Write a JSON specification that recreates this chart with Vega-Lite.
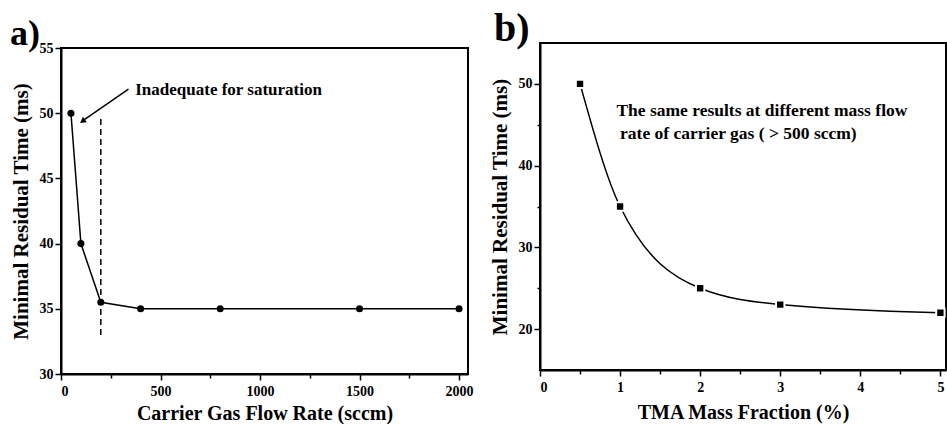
{
  "$schema": "https://vega.github.io/schema/vega-lite/v6.json",
  "background": "white",
  "padding": {"left": 9, "top": 8, "right": 0, "bottom": 0},
  "spacing": 13,
  "center": true,
  "datasets": {
    "flow": [
      {"rate": 50, "time": 50},
      {"rate": 100, "time": 40},
      {"rate": 200, "time": 35.5},
      {"rate": 400, "time": 35},
      {"rate": 800, "time": 35},
      {"rate": 1500, "time": 35},
      {"rate": 2000, "time": 35}
    ],
    "tma": [
      {"frac": 0.5, "time": 50},
      {"frac": 1, "time": 35},
      {"frac": 2, "time": 25},
      {"frac": 3, "time": 23},
      {"frac": 5, "time": 22}
    ]
  },
  "config": {
    "font": "Liberation Serif",
    "view": {"stroke": "black", "strokeWidth": 2},
    "axis": {
      "grid": false,
      "domainColor": "black",
      "domainWidth": 2,
      "tickColor": "black",
      "tickWidth": 1.5,
      "labelFont": "Liberation Serif",
      "labelFontWeight": "bold",
      "labelFontSize": 14,
      "labelColor": "black",
      "titleFont": "Liberation Serif",
      "titleFontWeight": "bold",
      "titleFontSize": 20,
      "titleColor": "black",
      "labelOverlap": false
    },
    "title": {
      "font": "Liberation Serif",
      "fontWeight": "bold",
      "color": "black",
      "anchor": "start",
      "frame": "group",
      "baseline": "alphabetic"
    }
  },
  "hconcat": [
    {
      "width": 407,
      "height": 326,
      "title": {"text": "a)", "fontSize": 36, "dx": -51, "offset": -12},
      "layer": [
        {
          "data": {"name": "flow"},
          "mark": {"type": "line", "color": "black", "strokeWidth": 1.5},
          "encoding": {
            "x": {
              "field": "rate", "type": "quantitative",
              "scale": {"domain": [0, 2045], "nice": false},
              "axis": {
                "title": "Carrier Gas Flow Rate (sccm)",
                "values": [0, 250, 500, 750, 1000, 1250, 1500, 1750, 2000],
                "labelExpr": "datum.value % 500 === 0 ? format(datum.value, 'd') : ''",
                "tickSize": {"condition": {"test": "datum.value % 500 === 0", "value": 6}, "value": 4},
                "labelPadding": 4,
                "titlePadding": 5
              }
            },
            "y": {
              "field": "time", "type": "quantitative",
              "scale": {"domain": [30, 55], "nice": false, "zero": false},
              "axis": {
                "title": "Minimal Residual Time (ms)",
                "titleFontSize": 21,
                "values": [30, 32.5, 35, 37.5, 40, 42.5, 45, 47.5, 50, 52.5, 55],
                "labelExpr": "datum.value % 5 === 0 ? format(datum.value, 'd') : ''",
                "tickSize": {"condition": {"test": "datum.value % 5 === 0", "value": 6}, "value": 3},
                "labelPadding": 2,
                "titlePadding": 8
              }
            }
          }
        },
        {
          "data": {"name": "flow"},
          "mark": {"type": "point", "shape": "circle", "filled": true, "color": "black", "size": 50, "opacity": 1},
          "encoding": {
            "x": {"field": "rate", "type": "quantitative"},
            "y": {"field": "time", "type": "quantitative"}
          }
        },
        {
          "data": {"values": [{"x": 200, "y": 33, "y2": 49.8}]},
          "mark": {"type": "rule", "color": "black", "strokeWidth": 1.5, "strokeDash": [6, 4]},
          "encoding": {
            "x": {"field": "x", "type": "quantitative"},
            "y": {"field": "y", "type": "quantitative"},
            "y2": {"field": "y2"}
          }
        },
        {
          "data": {"values": [{"x": 339, "y": 51.85, "x2": 112, "y2": 49.45}]},
          "mark": {"type": "rule", "color": "black", "strokeWidth": 1.5},
          "encoding": {
            "x": {"field": "x", "type": "quantitative"},
            "y": {"field": "y", "type": "quantitative"},
            "x2": {"field": "x2"},
            "y2": {"field": "y2"}
          }
        },
        {
          "data": {"values": [{"x": 108, "y": 49.38}]},
          "mark": {"type": "point", "shape": "triangle-up", "filled": true, "color": "black", "size": 45, "angle": 234, "opacity": 1},
          "encoding": {
            "x": {"field": "x", "type": "quantitative"},
            "y": {"field": "y", "type": "quantitative"}
          }
        },
        {
          "data": {"values": [{"x": 373, "y": 51.42, "label": "Inadequate for saturation"}]},
          "mark": {"type": "text", "align": "left", "baseline": "alphabetic", "fontSize": 17, "fontWeight": "bold", "font": "Liberation Serif", "color": "black"},
          "encoding": {
            "x": {"field": "x", "type": "quantitative"},
            "y": {"field": "y", "type": "quantitative"},
            "text": {"field": "label"}
          }
        }
      ]
    },
    {
      "width": 406,
      "height": 327,
      "title": {"text": "b)", "fontSize": 40, "dx": -46, "offset": -6},
      "layer": [
        {
          "data": {"name": "tma"},
          "mark": {"type": "line", "color": "black", "strokeWidth": 1.5, "interpolate": "monotone"},
          "encoding": {
            "x": {
              "field": "frac", "type": "quantitative",
              "scale": {"domain": [0, 5.07], "nice": false},
              "axis": {
                "title": ["TMA Mass Fraction (%)", " "],
                "titleLineHeight": 6,
                "values": [0, 0.5, 1, 1.5, 2, 2.5, 3, 3.5, 4, 4.5, 5],
                "labelExpr": "datum.value % 1 === 0 ? format(datum.value, 'd') : ''",
                "tickSize": {"condition": {"test": "datum.value % 1 === 0", "value": 6}, "value": 4},
                "labelPadding": 4,
                "titlePadding": 8
              }
            },
            "y": {
              "field": "time", "type": "quantitative",
              "scale": {"domain": [15, 55], "nice": false, "zero": false},
              "axis": {
                "title": "Minimal Residual Time (ms)",
                "titleFontSize": 21,
                "values": [20, 25, 30, 35, 40, 45, 50],
                "labelExpr": "datum.value % 10 === 0 ? format(datum.value, 'd') : ''",
                "tickSize": {"condition": {"test": "datum.value % 10 === 0", "value": 6}, "value": 3},
                "labelPadding": 2,
                "titlePadding": 8
              }
            }
          }
        },
        {
          "data": {"name": "tma"},
          "mark": {"type": "point", "shape": "square", "filled": true, "fill": "black", "stroke": "white", "strokeWidth": 2, "size": 70, "opacity": 1},
          "encoding": {
            "x": {"field": "frac", "type": "quantitative"},
            "y": {"field": "time", "type": "quantitative"}
          }
        },
        {
          "data": {"values": [
            {"x": 0.954, "y": 46.02, "label": "The same results at different mass flow"},
            {"x": 1.0, "y": 43.3, "label": "rate of carrier gas ( > 500 sccm)"}
          ]},
          "mark": {"type": "text", "align": "left", "baseline": "alphabetic", "fontSize": 17.5, "fontWeight": "bold", "font": "Liberation Serif", "color": "black"},
          "encoding": {
            "x": {"field": "x", "type": "quantitative"},
            "y": {"field": "y", "type": "quantitative"},
            "text": {"field": "label"}
          }
        }
      ]
    }
  ]
}
